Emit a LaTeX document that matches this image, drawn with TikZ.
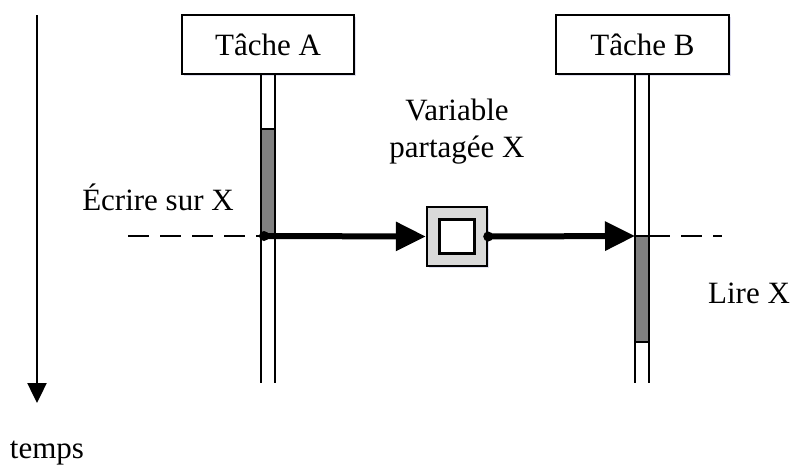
\documentclass[tikz,border=0pt]{standalone}
\usepackage{fontspec}
\setmainfont{Liberation Serif}
\usetikzlibrary{arrows.meta,shadows}
\begin{document}
\begin{tikzpicture}[x=1pt,y=-1pt,
  txt/.style={font=\fontsize{31}{37}\selectfont, inner sep=0pt},
  taskbox/.style={draw, line width=2.4pt, fill=white, txt,
    minimum height=59pt, anchor=center,
    drop shadow={opacity=0.18, fill=blue!40!gray, shadow xshift=2pt, shadow yshift=-2pt}},
  lifeline/.style={line width=2.4pt},
  activity/.style={draw, line width=2.4pt, fill=black!50},
  levelline/.style={line width=2.4pt, dash pattern=on 21pt off 11pt},
  flow/.style={line width=6pt, -{Triangle[length=30pt,width=28pt]}},
  timeaxis/.style={line width=2.4pt, -{Triangle[length=20pt,width=19pt]}}
]
\useasboundingbox (0,0) rectangle (797,475);

% time axis
\coordinate (ttop) at (37,15);
\coordinate (tbot) at (37,403);
\draw[timeaxis] (ttop) -- (tbot);
\node[txt, anchor=base] (temps) at (47,458) {temps};

% task headers
\node[taskbox, minimum width=172pt] (taskA) at (268,44.5) {Tâche A};
\node[taskbox, minimum width=173pt] (taskB) at (642.5,44.5) {Tâche B};

% lifelines
\coordinate (aL) at (261,74);  \coordinate (aLb) at (261,383);
\coordinate (aR) at (275,74);  \coordinate (aRb) at (275,383);
\coordinate (bL) at (635,74);  \coordinate (bLb) at (635,383);
\coordinate (bR) at (649,74);  \coordinate (bRb) at (649,383);
\draw[lifeline] (aL) -- (aLb);
\draw[lifeline] (aR) -- (aRb);
\draw[lifeline] (bL) -- (bLb);
\draw[lifeline] (bR) -- (bRb);

% activity bars
\draw[activity] (261,129) rectangle (275,236);
\draw[activity] (635,236) rectangle (649,342);

% write / read levels
\coordinate (wl) at (128,236);
\coordinate (wa) at (264,236);
\coordinate (rb) at (649,236);
\coordinate (rr) at (722,236);
\draw[levelline] (wl) -- (wa);
\draw[levelline] (rb) -- (rr);

% shared variable
\node[draw, line width=2.4pt, fill=black!15, minimum width=60pt, minimum height=59pt,
  drop shadow={opacity=0.18, fill=blue!40!gray, shadow xshift=2pt, shadow yshift=-2pt}]
  (var) at (457,236.5) {};
\node[draw, line width=2.4pt, fill=white, minimum width=35pt, minimum height=34pt]
  (varin) at (var.center) {};

% data flow
\coordinate (bin) at (635,236);
\fill (wa) circle (5pt);
\draw[flow] (wa) -- (var.west);
\fill (var.east) circle (5pt);
\draw[flow] (var.east) -- (bin);

% labels
\node[txt, anchor=base] (write) at (158,210) {Écrire sur X};
\node[txt, anchor=base, align=center] (varlbl) at (457,157) {Variable\\partagée X};
\node[txt, anchor=base] (read) at (749,303) {Lire X};
\end{tikzpicture}
\end{document}
